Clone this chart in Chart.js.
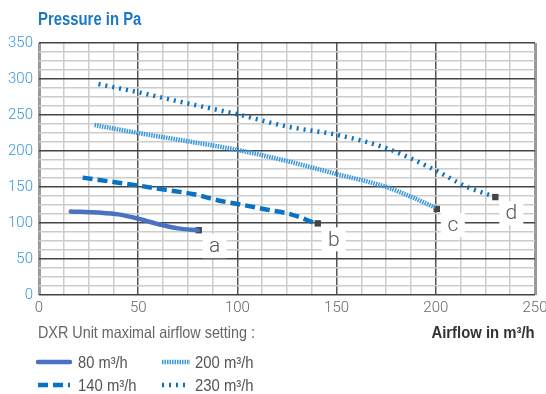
<!DOCTYPE html>
<html><head><meta charset="utf-8">
<script src="https://cdn.jsdelivr.net/npm/chart.js@4/dist/chart.umd.min.js"></script>
<style>
html,body{margin:0;padding:0;background:#fff;width:546px;height:394px;overflow:hidden;}
#wrap{position:relative;width:546px;height:394px;}
canvas{position:absolute;left:0;top:0;}
.t{position:absolute;line-height:1;white-space:nowrap;font-family:"Liberation Sans",Arial,sans-serif;transform-origin:left top;}
.r{transform-origin:right top;}
</style></head>
<body><div id="wrap">
<canvas id="c" width="546" height="394"></canvas>
<div class="t" style="left:38px;top:11px;font-size:17.5px;font-weight:bold;color:#1a78c6;transform:scaleX(0.85);">Pressure in Pa</div>
<div class="t" style="left:38px;top:324px;font-size:16.5px;color:#666;transform:scaleX(0.87);">DXR Unit maximal airflow setting :</div>
<div class="t r" style="right:11px;top:324px;font-size:16.5px;font-weight:bold;color:#333;transform:scaleX(0.9);">Airflow in m³/h</div>
<div class="t" style="left:78px;top:354px;font-size:16.5px;color:#555;transform:scaleX(0.89);">80 m³/h</div>
<div class="t" style="left:195px;top:354px;font-size:16.5px;color:#555;transform:scaleX(0.9);">200 m³/h</div>
<div class="t" style="left:78px;top:377px;font-size:16.5px;color:#555;transform:scaleX(0.9);">140 m³/h</div>
<div class="t" style="left:195px;top:377px;font-size:16.5px;color:#555;transform:scaleX(0.9);">230 m³/h</div>
</div>
<script>
// ---- data ----
const xTicks = [0, 50, 100, 150, 200, 250];
const yTicks = [0, 50, 100, 150, 200, 250, 300, 350];
const seriesNames = ['80 m³/h', '140 m³/h', '200 m³/h', '230 m³/h'];
const x80 = [16, 30, 40, 50, 60, 70, 80];
const y80 = [116, 114.5, 112, 106, 98.5, 92.5, 90];
const x140 = [22, 37.5, 50, 64, 78, 91, 100, 116, 127, 139];
const y140 = [163, 157, 152, 146, 140, 131, 126.5, 118, 112, 100];
const x200 = [28, 50, 75, 100, 125, 150, 175, 187.5, 200];
const y200 = [236, 225, 213.5, 201.5, 186, 168, 150, 136.5, 121];
const x230 = [30, 50, 75, 100, 125, 150, 175, 200, 215, 228];
const y230 = [293, 281.5, 266, 251, 234, 222.5, 204, 173, 151, 138];
const markerX = [80.5, 140.5, 200.5, 230];
const markerY = [90, 99.5, 119.5, 136];
const markerLabels = ['a', 'b', 'c', 'd'];

const pts = (xs, ys) => xs.map((x, i) => ({x: x, y: ys[i]}));
const styles = [
  {color: '#4a72c0', width: 4.5, dash: []},
  {color: '#0a72c2', width: 4.5, dash: [10, 5]},
  {color: '#3a98dc', width: 4.5, dash: [1.5, 1]},
  {color: '#0a70c0', width: 4.5, dash: [2, 5]}
];
const seriesData = [pts(x80, y80), pts(x140, y140), pts(x200, y200), pts(x230, y230)];
const datasets = seriesData.map((d, i) => ({
  label: seriesNames[i], data: d, borderColor: styles[i].color, borderWidth: styles[i].width,
  borderDash: styles[i].dash, pointRadius: 0, fill: false, cubicInterpolationMode: 'monotone',
  borderCapStyle: i === 0 ? 'round' : 'butt'
}));
datasets.push({
  label: 'markers', data: pts(markerX, markerY), showLine: false, pointStyle: 'rect',
  pointRadius: 4.5, pointBackgroundColor: '#444', pointBorderColor: '#444', borderWidth: 0
});

const overlay = {
  id: 'overlay',
  afterDatasetsDraw(chart) {
    const c = chart.ctx, xs = chart.scales.x, ys = chart.scales.y;
    c.save();
    c.font = '300 21px Roboto, sans-serif';
    c.textAlign = 'center'; c.textBaseline = 'middle';
    markerX.forEach((mx, i) => {
      const px = xs.getPixelForValue(mx) + 16, py = ys.getPixelForValue(markerY[i]) + 16;
      c.fillStyle = '#fff';
      c.fillRect(px - 12, py - 12, 24, 24);
      c.fillStyle = '#555';
      c.fillText(markerLabels[i], px, py + 1);
    });
    // legend samples: [x0, x1, y] for series 0..3
    const pos = [[38, 70, 362], [38, 70, 385], [162, 190, 362], [162, 190, 385]];
    styles.forEach((s, si) => {
      const p = pos[si];
      c.beginPath();
      c.strokeStyle = s.color; c.lineWidth = s.width; c.setLineDash(s.dash);
      c.lineCap = si === 0 ? 'round' : 'butt';
      c.moveTo(p[0], p[2]); c.lineTo(p[1], p[2]); c.stroke();
    });
    c.restore();
  }
};

new Chart(document.getElementById('c'), {
  type: 'line',
  data: {datasets: datasets},
  options: {
    responsive: false, animation: false, devicePixelRatio: 1,
    layout: {padding: {top: 43, right: 11, left: 0, bottom: 0}},
    plugins: {legend: {display: false}, tooltip: {enabled: false}},
    scales: {
      x: {
        type: 'linear', min: 0, max: 250,
        afterFit: s => { s.height = 99; s.paddingRight = 0; s.paddingLeft = 0; },
        ticks: {stepSize: 12.5, autoSkip: false, maxRotation: 0, padding: 4, color: '#666',
          font: {family: 'Roboto', weight: 300, size: 15},
          callback: v => xTicks.includes(v) ? String(v) : ''},
        grid: {drawTicks: false,
          color: ctx => { const v = ctx.tick.value; if (v === 0 || v === 250) return '#999'; return v % 50 === 0 ? '#555' : '#ccc'; },
          lineWidth: ctx => { const v = ctx.tick.value; if (v === 0 || v === 250) return 3; return 1.5; }},
        border: {display: false}
      },
      y: {
        type: 'linear', min: 0, max: 350,
        afterFit: s => { s.width = 39; s.paddingTop = 0; s.paddingBottom = 0; },
        ticks: {stepSize: 12.5, autoSkip: false, padding: 6, color: '#3a96d8',
          font: {family: 'Roboto', weight: 300, size: 15},
          callback: v => yTicks.includes(v) ? String(v) : ''},
        grid: {drawTicks: false,
          color: ctx => ctx.tick.value % 50 === 0 ? '#444' : '#ccc',
          lineWidth: 1.5},
        border: {display: false}
      }
    }
  },
  plugins: [overlay]
});
</script>
</body></html>
